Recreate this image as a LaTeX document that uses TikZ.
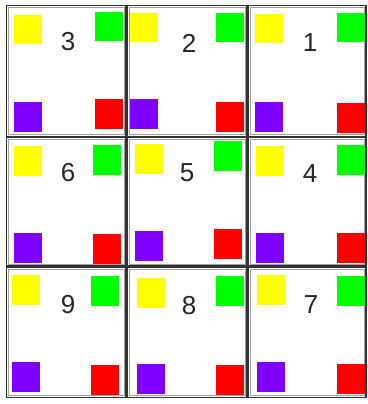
\documentclass[tikz,border=0pt]{standalone}
\usepackage{fontspec}
\setmainfont{Liberation Sans}
\definecolor{cy}{HTML}{FFFF00}
\definecolor{cg}{HTML}{00FF00}
\definecolor{cp}{HTML}{7F00FF}
\definecolor{cr}{HTML}{FF0000}
\definecolor{frameouter}{HTML}{333333}
\definecolor{frameinner}{HTML}{A0A0A0}
\definecolor{numcol}{HTML}{262626}
\tikzset{
  cellouter/.style={draw=frameouter, line width=1.5pt},
  cellinner/.style={draw=frameinner, line width=0.6pt},
  numlabel/.style={inner sep=0pt, text=numcol, font=\fontsize{26}{26}\selectfont},
}
\begin{document}
\begin{tikzpicture}[x=1pt,y=-1pt]
\useasboundingbox[fill=white] (0,0) rectangle (367,404);
% cell frames
\foreach \xa/\xb in {6.5/126, 127/247, 248.5/366}{
  \foreach \ya/\yb in {5.5/136.5, 137.5/266, 267/397.5}{
    \draw[cellouter] (\xa,\ya) rectangle (\xb,\yb);
    \draw[cellinner] (\xa+2.2,\ya+2.2) rectangle (\xb-2.2,\yb-2.2);
  }
}
% coloured squares: yellow, green, purple, red
\foreach \yx/\yy/\gx/\gy/\px/\py/\rx/\ry in {
  14/15/95/12/14/102/95/99,
  130/13/216/13/130/99/216/102,
  255/14/337/13/255/102/337/103,
  14/146/93/145/14/233/93/234,
  135/144/214/141/135/231/214/229,
  256/146/337/145/256/233/337/233,
  12/275/91/276/12/362/91/365,
  137/278/216/276/137/364/216/365,
  257/275/337/276/257/362/337/364}{
  \fill[cy] (\yx,\yy) rectangle ++(27.5,29.5);
  \fill[cg] (\gx,\gy) rectangle ++(27.5,29.5);
  \fill[cp] (\px,\py) rectangle ++(27.5,29.5);
  \fill[cr] (\rx,\ry) rectangle ++(27.5,29.5);
}
% numbers
\node[numlabel] (n3) at (68,42) {3};
\node[numlabel] (n2) at (189,43) {2};
\node[numlabel] (n1) at (310,43) {1};
\node[numlabel] (n6) at (68,173) {6};
\node[numlabel] (n5) at (187,173) {5};
\node[numlabel] (n4) at (310,174) {4};
\node[numlabel] (n9) at (68,305) {9};
\node[numlabel] (n8) at (189,306) {8};
\node[numlabel] (n7) at (311,305) {7};
\end{tikzpicture}
\end{document}
